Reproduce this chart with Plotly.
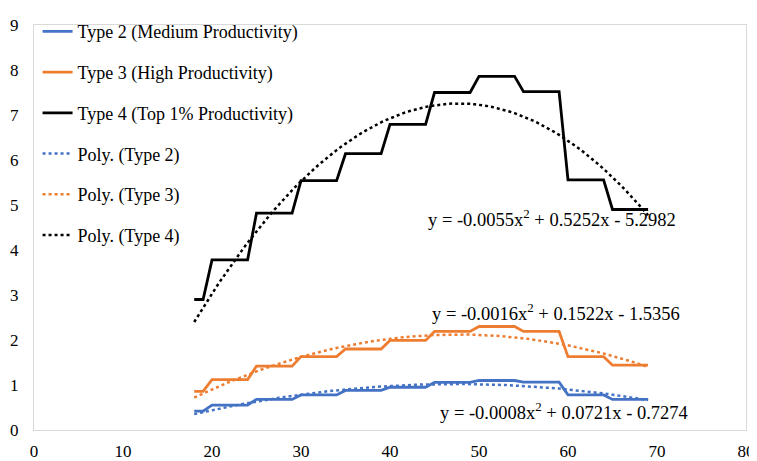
import numpy as np
import plotly.graph_objects as go

# Ages (x) and average values for each productivity type, one value per age
ages = list(range(18, 70))
type2 = ([0.42] * 2 + [0.555] * 5 + [0.68] * 5 + [0.78] * 5 + [0.88] * 5 + [0.95] * 5 +
         [1.06] * 5 + [1.10] * 5 + [1.065] * 5 + [0.78] * 5 + [0.68] * 5)
type3 = ([0.86] * 2 + [1.12] * 5 + [1.42] * 5 + [1.63] * 5 + [1.80] * 5 + [1.99] * 5 +
         [2.19] * 5 + [2.30] * 5 + [2.19] * 5 + [1.63] * 5 + [1.44] * 5)
type4 = ([2.90] * 2 + [3.78] * 5 + [4.82] * 5 + [5.54] * 5 + [6.14] * 5 + [6.79] * 5 +
         [7.50] * 5 + [7.86] * 5 + [7.52] * 5 + [5.56] * 5 + [4.90] * 5)

names = ["Type 2 (Medium Productivity)", "Type 3 (High Productivity)", "Type 4 (Top 1% Productivity)"]
poly_names = ["Poly. (Type 2)", "Poly. (Type 3)", "Poly. (Type 4)"]
equations = ["y = -0.0008x<sup>2</sup> + 0.0721x - 0.7274",
             "y = -0.0016x<sup>2</sup> + 0.1522x - 1.5356",
             "y = -0.0055x<sup>2</sup> + 0.5252x - 5.2982"]
colors = ["#4472C4", "#ED7D31", "#000000"]
series = [type2, type3, type4]

FONT = "Liberation Serif"
fig = go.Figure()

for i, (nm, ys, c) in enumerate(zip(names, series, colors)):
    fig.add_trace(go.Scatter(x=ages, y=ys, mode="lines", name=nm,
                             line=dict(color=c, width=2.8), legendgroup=f"g{i}"))

xfit = np.arange(18, 69.01, 0.5)
for i, (nm, ys, c) in enumerate(zip(poly_names, series, colors)):
    coef = np.polyfit(ages, ys, 2)
    fig.add_trace(go.Scatter(x=xfit, y=np.polyval(coef, xfit), mode="lines", name=nm,
                             line=dict(color=c, width=2.5, dash="dot"), legendgroup=f"p{i}"))

# equation label anchors (data coordinates)
eq_x = [59.6, 58.7, 58.2]
eq_y = [0.43, 2.63, 4.71]
for xp, yp, txt in zip(eq_x, eq_y, equations):
    fig.add_annotation(x=xp, y=yp, text=txt, showarrow=False,
                       font=dict(family=FONT, size=18.5, color="#000"))

axis_common = dict(showgrid=False, zeroline=False, showline=True, mirror=True,
                   linecolor="#D9D9D9", linewidth=1, ticks="", automargin=False,
                   tickfont=dict(family=FONT, size=17, color="#000"))
fig.update_xaxes(range=[0, 80], dtick=10, ticklabelstandoff=6, **axis_common)
fig.update_yaxes(range=[0, 9], dtick=1, ticklabelstandoff=11, **axis_common)

# the page body adds an 8px offset; margins compensate so the plot sits where the reference has it
fig.update_layout(
    width=757, height=461,
    margin=dict(l=26, r=19, t=5, b=39),
    paper_bgcolor="white", plot_bgcolor="white",
    font=dict(family=FONT, size=18, color="#000"),
    showlegend=True,
    legend=dict(x=0.005, y=1.029, xanchor="left", yanchor="top",
                bgcolor="rgba(0,0,0,0)", tracegroupgap=14.3, maxheight=400,
                font=dict(family=FONT, size=18, color="#000"),
                itemwidth=30),
)

fig.write_html("out.html")
